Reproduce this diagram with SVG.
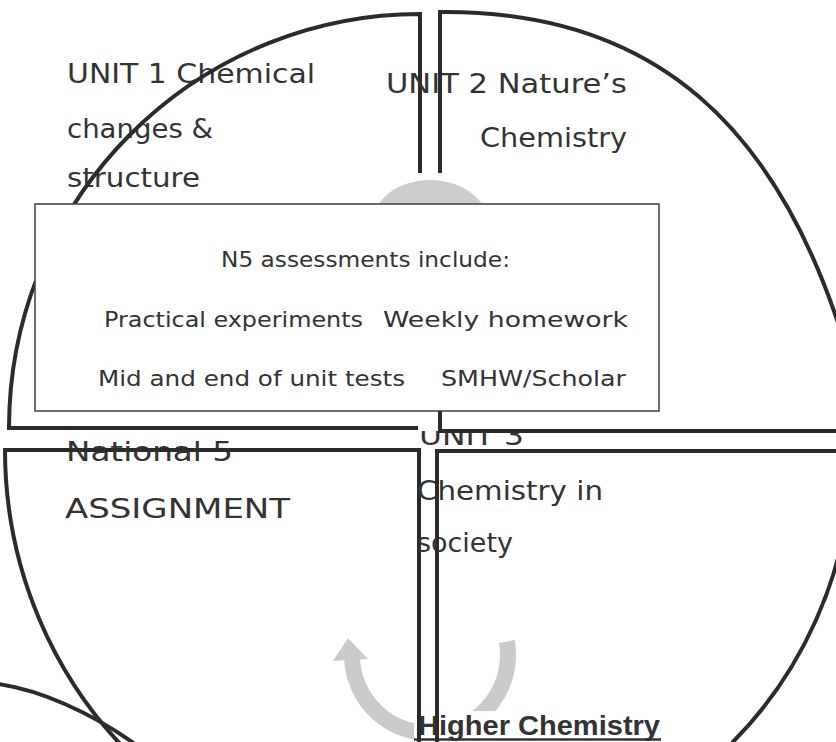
<svg xmlns="http://www.w3.org/2000/svg" width="836" height="742" viewBox="0 0 836 742">
<style>
.q{fill:none;stroke:#2b2b2b;stroke-width:4;stroke-linejoin:miter}
.lbl{font-family:"DejaVu Sans","Liberation Sans",sans-serif;font-size:26px;fill:#333}
.bx{font-family:"DejaVu Sans","Liberation Sans",sans-serif;font-size:21px;fill:#333}
.arr{fill:none;stroke:#cbcbcb;stroke-width:16}
</style>
<rect width="836" height="742" fill="#fff"/>
<g id="connectors">
  <path d="M378,205 Q394,181 430,180 Q466,181 483,205 Z" fill="#cdcdcd"/>
  <path class="arr" d="M506.8,641.5 A78,78 0 1 1 352,655"/>
  <polygon points="348,638 333,661 368,659" fill="#cbcbcb"/>
</g>
<g id="higher">
  <rect x="414" y="711" width="250" height="31" fill="#fff"/>
  <text x="418" y="735" font-family="Liberation Sans, Arial, sans-serif" font-weight="bold" font-size="27" fill="#333" textLength="242" lengthAdjust="spacingAndGlyphs">Higher Chemistry</text>
  <line x1="414" y1="739.5" x2="661" y2="739.5" stroke="#333" stroke-width="2.5"/>
</g>
<g id="unit1">
  <text class="lbl" x="67" y="83" textLength="248" lengthAdjust="spacingAndGlyphs">UNIT 1 Chemical</text>
  <text class="lbl" x="67" y="138" textLength="146" lengthAdjust="spacingAndGlyphs">changes &amp;</text>
  <text class="lbl" x="67" y="187" textLength="133" lengthAdjust="spacingAndGlyphs">structure</text>
  <path class="q" d="M420,173 L420,14 A411,414 0 0 0 9,428 L420,428 L420,411"/>
</g>
<g id="unit2">
  <text class="lbl" x="386" y="93" textLength="241" lengthAdjust="spacingAndGlyphs">UNIT 2 Nature’s</text>
  <text class="lbl" x="480" y="147" textLength="147" lengthAdjust="spacingAndGlyphs">Chemistry</text>
</g>
<g id="assignment">
  <text class="lbl" x="66" y="461" textLength="167" lengthAdjust="spacingAndGlyphs">National 5</text>
  <text class="lbl" x="65" y="518" textLength="225" lengthAdjust="spacingAndGlyphs">ASSIGNMENT</text>
  <path class="q" d="M419,742 L419,450 L5,450 A414,425 0 0 0 136,760"/>
</g>
<g id="unit3">
  <text class="lbl" x="419" y="445" textLength="105" lengthAdjust="spacingAndGlyphs">UNIT 3</text>
  <rect x="418" y="405" width="220" height="26" fill="#fff"/>
  <text class="lbl" x="417" y="500" textLength="186" lengthAdjust="spacingAndGlyphs">Chemistry in</text>
  <text class="lbl" x="417" y="552" textLength="96" lengthAdjust="spacingAndGlyphs">society</text>
  <path class="q" d="M437,742 L437,451 L852,451 A415,415 0 0 1 714,760"/>
</g>
<g id="unit2-outline">
  <path class="q" d="M440,173 L440,12 C640,10 790,110 860,400 L860,431 L440,431 L440,411"/>
</g>
<g id="other-shape">
  <path class="q" d="M-2,684 C40,690 90,712 135,744"/>
</g>
<g id="assessments">
  <rect x="35" y="204" width="624" height="207" fill="#fff" stroke="#4a4a4a" stroke-width="1.6"/>
  <text class="bx" x="221" y="267" textLength="289" lengthAdjust="spacingAndGlyphs">N5 assessments include:</text>
  <text class="bx" x="104" y="327" textLength="259" lengthAdjust="spacingAndGlyphs">Practical experiments</text>
  <text class="bx" x="383" y="327" textLength="245" lengthAdjust="spacingAndGlyphs">Weekly homework</text>
  <text class="bx" x="98" y="386" textLength="307" lengthAdjust="spacingAndGlyphs">Mid and end of unit tests</text>
  <text class="bx" x="441" y="386" textLength="185" lengthAdjust="spacingAndGlyphs">SMHW/Scholar</text>
</g>
</svg>
